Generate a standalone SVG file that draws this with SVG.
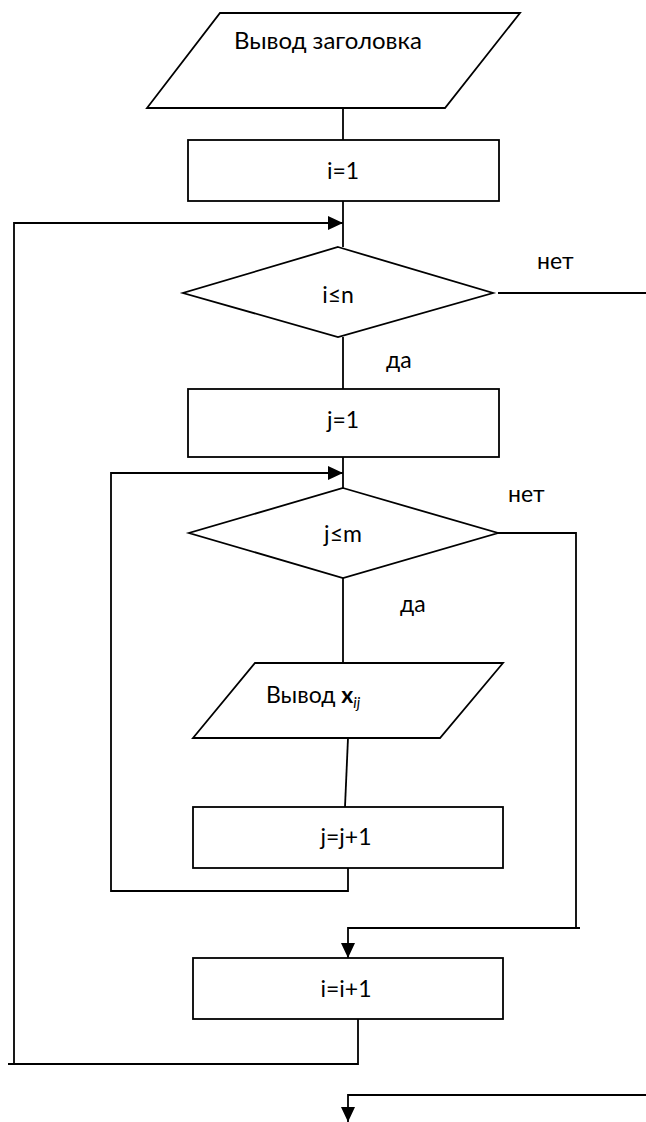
<svg xmlns="http://www.w3.org/2000/svg" width="646" height="1122" viewBox="0 0 646 1122">
  <style>
    .shape { fill: #ffffff; stroke: #000000; stroke-width: 1.8; }
    .wire { fill: none; stroke: #000000; stroke-width: 1.8; }
    .lbl { font-family: Lato, "Liberation Sans", sans-serif; font-size: 23px; fill: #000000; }
    .big { font-size: 24px; }
    .mid { text-anchor: middle; }
  </style>
  <defs>
    <marker id="arrow" markerUnits="userSpaceOnUse" markerWidth="16" markerHeight="14" refX="15" refY="7" orient="auto">
      <path d="M0,0 L15,7 L0,14 z" fill="#000000"/>
    </marker>
  </defs>
  <rect width="646" height="1122" fill="#ffffff"/>

  <!-- connectors -->
  <g id="connectors" class="wire">
    <line x1="343" y1="108" x2="343" y2="140"/>
    <line x1="343" y1="201" x2="343" y2="247"/>
    <polyline points="8,1064 358,1064 358,1019"/>
    <polyline points="14,1064 14,223 343,223" marker-end="url(#arrow)"/>
    <line x1="498" y1="293" x2="646" y2="293"/>
    <line x1="343" y1="337" x2="343" y2="389"/>
    <line x1="343" y1="457" x2="343" y2="488"/>
    <polyline points="348,867 348,891 111,891 111,473 343,473" marker-end="url(#arrow)"/>
    <polyline points="498,533 576,533 576,928"/>
    <polyline points="580,928 348,928 348,958" marker-end="url(#arrow)"/>
    <line x1="343" y1="578" x2="343" y2="663"/>
    <line x1="348" y1="738" x2="345" y2="807"/>
    <polyline points="646,1095 348,1095 348,1122" marker-end="url(#arrow)"/>
  </g>

  <!-- connector labels -->
  <g id="labels" class="lbl">
    <text x="537" y="269">нет</text>
    <text x="386" y="368">да</text>
    <text x="508" y="502">нет</text>
    <text x="400" y="612">да</text>
  </g>

  <g id="out-header">
    <polygon class="shape" points="220,13 520,13 445,108 147,108"/>
    <text class="lbl big" x="234" y="49">Вывод заголовка</text>
  </g>

  <g id="init-i">
    <rect class="shape" x="188" y="140" width="311" height="61"/>
    <text class="lbl mid" x="343" y="179">i=1</text>
  </g>

  <g id="cond-i">
    <polygon class="shape" points="338,247 493,293 338,337 183,293"/>
    <text class="lbl mid" x="338" y="303">i≤n</text>
  </g>

  <g id="init-j">
    <rect class="shape" x="188" y="389" width="311" height="68"/>
    <text class="lbl mid" x="343" y="428">j=1</text>
  </g>

  <g id="cond-j">
    <polygon class="shape" points="343,488 498,533 343,578 189,533"/>
    <text class="lbl mid" x="343" y="542">j≤m</text>
  </g>

  <g id="out-x">
    <polygon class="shape" points="255,663 503,663 440,738 193,738"/>
    <text class="lbl" x="266" y="703">Вывод <tspan font-weight="bold">x</tspan><tspan font-style="italic" font-size="15" dy="5">ij</tspan></text>
  </g>

  <g id="inc-j">
    <rect class="shape" x="193" y="807" width="310" height="61"/>
    <text class="lbl mid" x="346" y="845">j=j+1</text>
  </g>

  <g id="inc-i">
    <rect class="shape" x="193" y="958" width="310" height="61"/>
    <text class="lbl mid" x="346" y="997">i=i+1</text>
  </g>
</svg>
